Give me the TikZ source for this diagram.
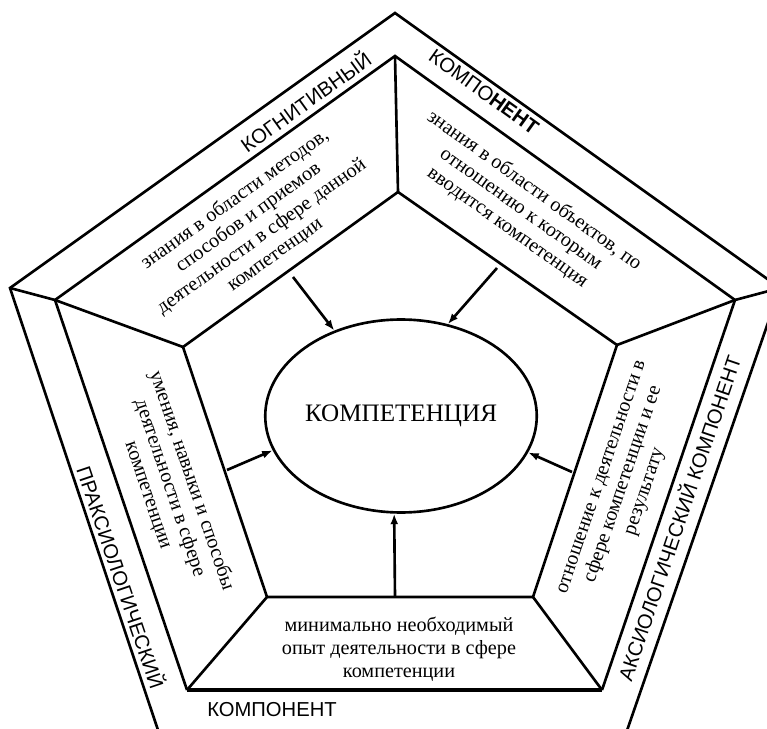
\documentclass[tikz,border=0pt]{standalone}
\usepackage{fontspec}
\setmainfont{Liberation Serif}
\setsansfont{Liberation Sans}
\usetikzlibrary{arrows.meta, shapes.geometric}

\begin{document}
\begin{tikzpicture}[x=0.02cm,y=-0.02cm,line width=1.5pt,
        komplabel/.style={font=\sffamily\fontsize{11.5}{13}\selectfont},
        blok/.style={align=center,font=\fontsize{11.5}{13}\selectfont},
        arr/.style={-{Latex[length=6pt,width=4.5pt]}}]
            \useasboundingbox (0,0) rectangle (767,729);
            \clip (0,0) rectangle (767,729);
            \coordinate (Otop) at (395,13);
            \coordinate (Oleft) at (10,288);
            \coordinate (Oright) at (780,288);
            \coordinate (Obl) at (163,745);
            \coordinate (Obr) at (622,745);
            \coordinate (Mtop) at (395,56);
            \coordinate (Mleft) at (55,300);
            \coordinate (Mright) at (735,300);
            \coordinate (Mbl) at (187,690);
            \coordinate (Mbr) at (602,690);
            \coordinate (Itop) at (398,192);
            \coordinate (Ileft) at (183,347);
            \coordinate (Iright) at (617,345);
            \coordinate (Ibl) at (267,597);
            \coordinate (Ibr) at (533,597);
            \draw (Obl) -- (Oleft) -- (Otop) -- (Oright) -- (Obr);
            \draw (Oleft) -- (Mleft);
            \draw (Oright) -- (Mright);
            \draw (Mbl) -- (Mleft) -- (Mtop) -- (Mright) -- (Mbr);
            \draw[line width=2.2pt] (Mbl) -- (Mbr);
            \draw (Itop) -- (Iright) -- (Ibr) -- (Ibl) -- (Ileft) -- cycle;
            \foreach \v in {top,left,right,bl,br}
                \draw (M\v) -- (I\v);
            \node[draw,ellipse,minimum width=4.26cm,minimum height=3.86cm,inner sep=0pt,
                font=\fontsize{14.3}{16}\selectfont] (komp) at (401,416) {КОМПЕТЕНЦИЯ};
            \coordinate (kognStart) at (293,277);
            \coordinate (objStart) at (497,268);
            \coordinate (praksStart) at (227,470);
            \coordinate (aksStart) at (572,472);
            \coordinate (opytStart) at (395,597);
            \draw[arr] (kognStart) -- (komp.128);
            \draw[arr] (objStart) -- (komp.63);
            \draw[arr] (praksStart) -- (komp.195);
            \draw[arr] (aksStart) -- (komp.344);
            \draw[arr] (opytStart) -- (komp.266.5);
            \node[komplabel,rotate=35.7] (kogn) at (305,101) {КОГНИТИВНЫЙ};
            \node[komplabel,rotate=-35.7] (kognKomp) at (484,92) {КОМПО\textbf{НЕНТ}};
            \node[komplabel,rotate=-71.3] (praks) at (122,577) {ПРАКСИОЛОГИЧЕСКИЙ};
            \node[komplabel,rotate=71.2] (aks) at (678,518) {АКСИОЛОГИЧЕСКИЙ КОМПОНЕНТ};
            \node[komplabel] (praksKomp) at (272,710) {КОМПОНЕНТ};
            \node[blok,rotate=35.7] (metody) at (255,227) {знания в области методов,\\способов и приемов\\деятельности в сфере данной\\компетенции};
            \node[blok,rotate=-35.7] (obekty) at (521,209) {знания в области объектов, по\\отношению к которым\\вводится компетенция};
            \node[blok,rotate=-71.3] (umeniya) at (170,488) {умения, навыки и способы\\деятельности в сфере\\компетенции};
            \node[blok,rotate=71.2] (otnoshenie) at (625,485) {отношение к деятельности в\\сфере компетенции и ее\\результату};
            \node[blok] (opyt) at (399,649) {минимально необходимый\\опыт деятельности в сфере\\компетенции};
        \end{tikzpicture}
\end{document}
